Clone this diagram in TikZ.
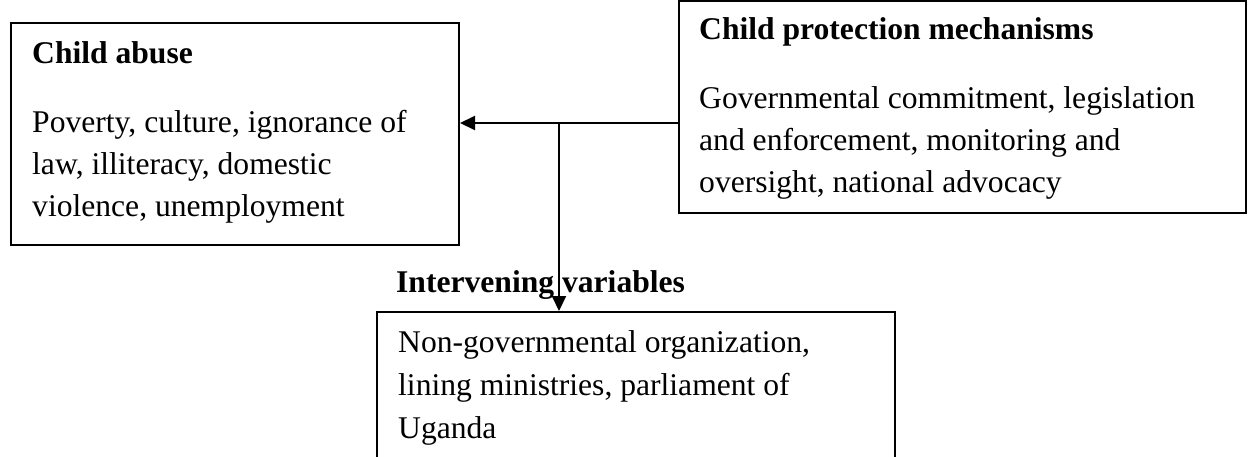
\documentclass[tikz,border=0pt]{standalone}
\usepackage{fontspec}
\setmainfont{Liberation Serif}
\usetikzlibrary{arrows.meta}
\begin{document}
\begin{tikzpicture}[x=1pt,y=-1pt,
  box/.style={draw=black, line width=2pt, inner sep=0pt, minimum width=#1},
  txt/.style={anchor=base west, inner sep=0pt, align=left, font=\fontsize{31.6}{42}\selectfont},
  ttl/.style={anchor=base west, inner sep=0pt, font=\fontsize{31.6}{42}\selectfont\bfseries},
  conn/.style={line width=2pt, -{Triangle[length=15pt,width=14pt]}}]
\useasboundingbox (0,0) rectangle (1248,456);
\clip (0,0) rectangle (1248,456);
\fill[white] (0,0) rectangle (1248,456);
\node[box=448pt, minimum height=222pt] (abuse) at (235,134) {};
\node[box=567pt, minimum height=212pt] (protect) at (962.5,107) {};
\node[box=518pt, minimum height=200pt] (interv) at (636,412) {};
\node[ttl] (abuseT) at (32,63) {Child abuse};
\node[txt] (abuseB) at (32,216) {Poverty, culture, ignorance of\\law, illiteracy, domestic\\violence, unemployment};
\node[ttl] (protT) at (699,39) {Child protection mechanisms};
\node[txt] (protB) at (699,192) {Governmental commitment, legislation\\and enforcement, monitoring and\\oversight, national advocacy};
\node[ttl] (intT) at (396,292) {Intervening variables};
\node[txt, font=\fontsize{31.6}{43}\selectfont] (intB) at (398,438) {Non-governmental organization,\\lining ministries, parliament of\\Uganda};
\coordinate (j) at (559,123);
\draw[conn] (protect.west |- j) -- (abuse.east |- j);
\draw[conn] (j) -- (interv.north -| j);
\end{tikzpicture}
\end{document}
